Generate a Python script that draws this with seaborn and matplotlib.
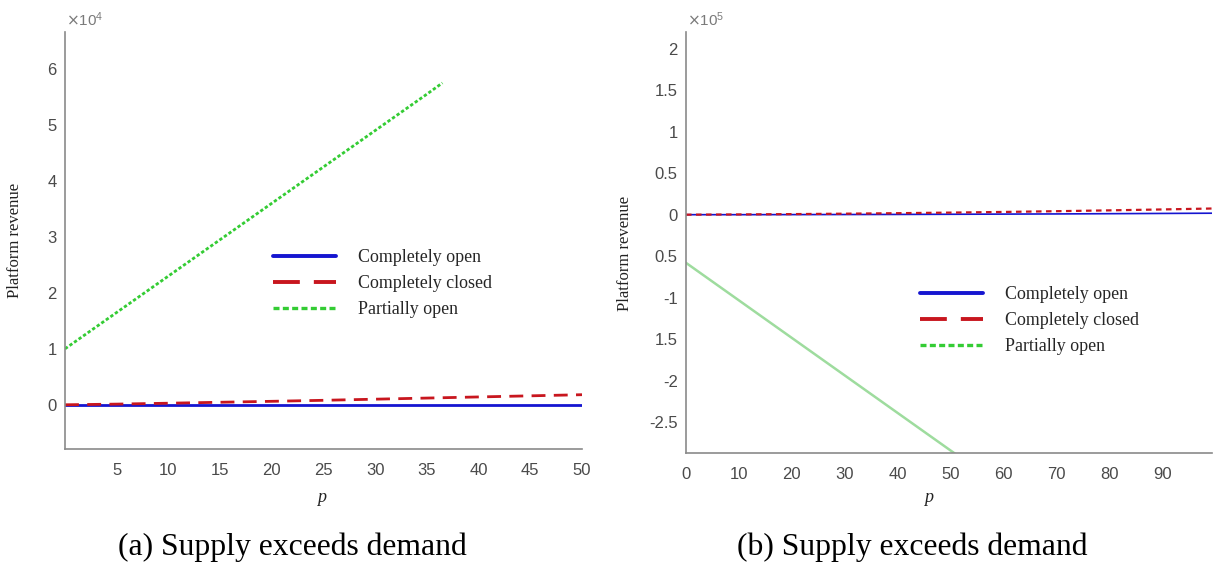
import numpy as np
import pandas as pd
import matplotlib
matplotlib.use("Agg")
import matplotlib.pyplot as plt
from matplotlib.lines import Line2D
from matplotlib.ticker import FixedLocator, FixedFormatter
import seaborn as sns

# ---- data: (a) platform revenue vs p ----
p_a = [0, 5, 10, 15, 20, 25, 30, 35, 40, 45, 50]
open_a = [0, 0, 0, 0, 0, 0, 0, 0, 0, 0, 0]
closed_a = [0, 120, 280, 450, 620, 800, 1000, 1200, 1400, 1600, 1800]
p_a_partial = [0, 5, 10, 15, 20, 25, 30, 35, 36.5]
partial_a = [10000, 16500, 23000, 29500, 36000, 42500, 49000, 55500, 57500]

# ---- data: (b) platform revenue vs p ----
p_b = [0, 10, 20, 30, 40, 50, 60, 70, 80, 90, 100]
open_b = [0, 0, 100, 200, 300, 500, 700, 900, 1200, 1500, 1800]
closed_b = [0, 300, 700, 1200, 1800, 2500, 3300, 4200, 5200, 6300, 7500]
p_b_partial = [0, 10, 20, 30, 40, 50, 52]
partial_b = [-58000, -103200, -148400, -193600, -238800, -284000, -293000]

series_names = ["Completely open", "Completely closed", "Partially open"]
yticks_a = [0, 1, 2, 3, 4, 5, 6]
yticks_b = [2, 1.5, 1, 0.5, 0, -0.5, -1, -1.5, -2, -2.5]
ytick_labels_b = ["2", "1.5", "1", "0.5", "0", "0.5", "-1", "1.5", "-2", "-2.5"]
xticks_a = [5, 10, 15, 20, 25, 30, 35, 40, 45, 50]
xticks_b = [0, 10, 20, 30, 40, 50, 60, 70, 80, 90]
captions = ["(a) Supply exceeds demand", "(b) Supply exceeds demand"]

sns.set_theme(style="white")
plt.rcParams["font.family"] = ["Liberation Sans", "DejaVu Sans"]

BLUE = "#1515d0"
RED = "#c8161e"
GREEN = "#34cc34"
GREEN_FAINT = "#9edc9e"
AXC = "#8a8a8a"
TXC = "#4a4a4a"
SERIF = "Liberation Serif"

fig = plt.figure(figsize=(12.13, 5.65), dpi=100)
ax_a = fig.add_axes([65 / 1213, 1 - 449 / 565, (582 - 65) / 1213, (449 - 32) / 565])
ax_b = fig.add_axes([686 / 1213, 1 - 453 / 565, (1212 - 686) / 1213, (453 - 32) / 565])

# panel (a)
df_a = pd.DataFrame({"p": p_a, "open": np.array(open_a) / 1e4, "closed": np.array(closed_a) / 1e4})
sns.lineplot(data=df_a, x="p", y="open", ax=ax_a, color=BLUE, lw=2.0)
sns.lineplot(data=df_a, x="p", y="closed", ax=ax_a, color=RED, lw=2.0,
             linestyle=(0, (5, 3)))
sns.lineplot(x=p_a_partial, y=np.array(partial_a) / 1e4, ax=ax_a, color=GREEN, lw=2.0,
             linestyle=(0, (1.2, 0.8)))
ax_a.set_xlim(0, 50)
ax_a.set_ylim(-0.79, 6.66)
ax_a.set_xticks(xticks_a)
ax_a.set_yticks(yticks_a)

# panel (b)
df_b = pd.DataFrame({"p": p_b, "open": np.array(open_b) / 1e5, "closed": np.array(closed_b) / 1e5})
sns.lineplot(data=df_b, x="p", y="open", ax=ax_b, color=BLUE, lw=1.2)
sns.lineplot(data=df_b, x="p", y="closed", ax=ax_b, color=RED, lw=1.6,
             linestyle=(0, (2.5, 2)))
sns.lineplot(x=p_b_partial, y=np.array(partial_b) / 1e5, ax=ax_b, color=GREEN_FAINT, lw=1.8)
ax_b.set_xlim(0, 99.4)
ax_b.set_ylim(-2.87, 2.2)
ax_b.xaxis.set_major_locator(FixedLocator(xticks_b))
ax_b.yaxis.set_major_locator(FixedLocator(yticks_b))
ax_b.yaxis.set_major_formatter(FixedFormatter(ytick_labels_b))

for ax, mult, cap, cx, lx, ylx, yly in [
    (ax_a, r"$\times\mathregular{10^{4}}$", captions[0], 292, 322, 15, 240),
    (ax_b, r"$\times\mathregular{10^{5}}$", captions[1], 912, 929, 625, 253),
]:
    for side in ("top", "right"):
        ax.spines[side].set_visible(False)
    for side in ("left", "bottom"):
        ax.spines[side].set_color(AXC)
        ax.spines[side].set_linewidth(1.2)
    ax.tick_params(axis="both", direction="in", length=4, width=1, color=AXC,
                   labelsize=12, labelcolor=TXC, pad=10)
    ax.tick_params(axis="y", pad=6)
    ax.set_xlabel("")
    ax.set_ylabel("")
    fig.text((ax.get_position().x0 * 1213 + 1) / 1213, 1 - 26 / 565, mult, color="#7a7a7a",
             fontsize=11, ha="left", va="baseline")
    fig.text(lx / 1213, 1 - 497 / 565, "p", fontsize=13, fontstyle="italic", family=SERIF,
             ha="center", va="center", color="#222222")
    fig.text(ylx / 1213, 1 - yly / 565, "Platform revenue", fontsize=12, family=SERIF,
             rotation=90, ha="center", va="center", color="#222222")
    fig.text(cx / 1213, 1 - 547 / 565, cap, fontsize=22.8, family=SERIF,
             ha="center", va="center", color="black")

# legends
handles = [
    Line2D([], [], color=BLUE, lw=2.8),
    Line2D([], [], color=RED, lw=2.8, linestyle=(0, (6.9, 3.6))),
    Line2D([], [], color=GREEN, lw=2.4, linestyle=(0, (1.8, 1.0))),
]
for ax, (x0, y0) in [(ax_a, (273, 249)), (ax_b, (920, 286))]:
    fig.legend(handles, series_names, loc="upper left",
               bbox_to_anchor=(x0 / 1213, 1 - y0 / 565), frameon=False,
               prop={"family": SERIF, "size": 12.9}, handlelength=3.5,
               handletextpad=1.25, labelspacing=0.5, borderpad=0, borderaxespad=0)

fig.savefig("out.png", dpi=100, facecolor="white")
